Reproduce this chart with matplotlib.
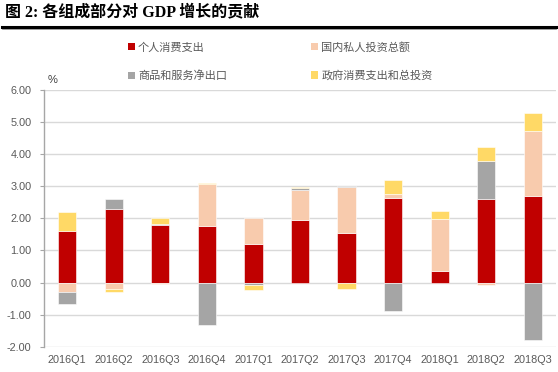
import matplotlib
matplotlib.use("Agg")
import matplotlib.pyplot as plt
import numpy as np
from matplotlib.patches import Patch
from matplotlib.lines import Line2D

plt.rcParams['font.family'] = ['Liberation Sans', 'Noto Sans CJK SC', 'DejaVu Sans']

categories = ['2016Q1', '2016Q2', '2016Q3', '2016Q4', '2017Q1', '2017Q2',
              '2017Q3', '2017Q4', '2018Q1', '2018Q2', '2018Q3']
series_names = ['个人消费支出', '国内私人投资总额', '商品和服务净出口', '政府消费支出和总投资']
consumption = [1.61, 2.28, 1.78, 1.77, 1.21, 1.94, 1.53, 2.64, 0.36, 2.59, 2.69]
investment = [-0.31, -0.19, -0.06, 1.29, 0.81, 0.94, 1.45, 0.13, 1.61, -0.07, 2.03]
net_exports = [-0.36, 0.32, 0.03, -1.31, -0.08, 0.07, 0.02, -0.88, 0.00, 1.19, -1.78]
government = [0.59, -0.12, 0.19, 0.03, -0.15, 0.04, -0.19, 0.42, 0.26, 0.45, 0.55]
yticks = [-2.0, -1.0, 0.0, 1.0, 2.0, 3.0, 4.0, 5.0, 6.0]

colors = ['#C00000', '#F8CBAD', '#A5A5A5', '#FFD966']
series = [consumption, investment, net_exports, government]

fig = plt.figure(figsize=(5.58, 3.72), dpi=100)
ax = fig.add_axes([44/558, (372-346.7)/372, (556-44)/558, (346.7-90)/372])

x = np.arange(len(categories))
pos_base = np.zeros(len(categories))
neg_base = np.zeros(len(categories))
for vals, c, name in zip(series, colors, series_names):
    v = np.array(vals)
    bottom = np.where(v >= 0, pos_base, neg_base)
    ax.bar(x, v, 0.39, bottom=bottom, color=c, edgecolor='white', linewidth=0.4, label=name, zorder=3)
    pos_base = pos_base + np.where(v >= 0, v, 0)
    neg_base = neg_base + np.where(v < 0, v, 0)

ax.set_xlim(-0.5, len(categories) - 0.5)
ax.set_ylim(-2.0, 6.0)
ax.set_yticks(yticks)
ax.set_yticklabels(['%.2f' % t for t in yticks])
ax.set_xticks(x)
ax.set_xticklabels(categories)
ax.grid(axis='y', color='#D9D9D9', linewidth=1.0, zorder=0)
ax.set_axisbelow(True)
for s in ['top', 'right', 'bottom']:
    ax.spines[s].set_visible(False)
ax.spines['left'].set_color('#A6A6A6')
ax.spines['left'].set_linewidth(1.0)
ax.tick_params(axis='y', colors='#595959', labelsize=7.8, length=3, color='#A6A6A6', pad=6)
ax.tick_params(axis='x', colors='#595959', labelsize=7.8, length=0, pad=6)

# title
fig.text(5/558, 1 - 12/372, '图 2: 各组成部分对 GDP 增长的贡献', fontsize=11.5, fontweight='bold',
         family=['Liberation Serif', 'Noto Sans CJK SC'], va='center', ha='left', color='black')
fig.add_artist(Line2D([2/558, 556/558], [1 - 26.5/372, 1 - 26.5/372], color='black', linewidth=2.2,
                      transform=fig.transFigure))
fig.add_artist(Line2D([2/558, 556/558], [1 - 28.8/372, 1 - 28.8/372], color='#777777', linewidth=0.5,
                      transform=fig.transFigure))

fig.text(53/558, 1 - 80/372, '%', fontsize=8, color='#404040', ha='center', va='center')

# legend: row-major order as in the reference (matplotlib fills column-major)
order = [0, 2, 1, 3]
handles = [Patch(facecolor=colors[i], edgecolor='none') for i in order]
labels = [series_names[i] for i in order]
leg = fig.legend(handles, labels, ncol=2, loc='center left',
                 bbox_to_anchor=(118/558, 1 - 61.5/372), frameon=False,
                 handlelength=0.6, handleheight=0.6, handletextpad=0.3,
                 columnspacing=7.6, labelspacing=1.6,
                 prop={'family': ['Noto Sans CJK SC'], 'size': 8})
for t in leg.get_texts():
    t.set_color('#595959')

fig.savefig('out.png', dpi=100)
